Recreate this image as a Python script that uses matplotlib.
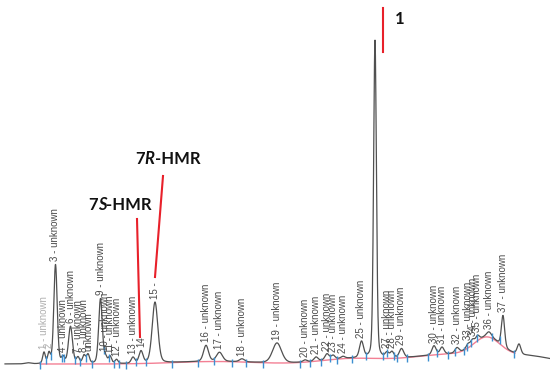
import numpy as np
import matplotlib.pyplot as plt

# peak table (retention axis in arbitrary units)
peak_rt = [44, 49, 55.5, 63, 70.5, 78, 84, 88, 100.5, 105.5, 110, 116.5, 133, 141, 155,
           206, 219.5, 242, 277, 305, 316, 327, 333, 343, 361.5, 375,
           387, 392, 401.5, 434, 442, 457, 468, 472.5, 477.5, 489, 503, 519]
peak_height = [11, 10, 99, 6, 37, 6, 8, 9, 65, 6, 7, 4, 6, 12, 61,
               16, 9, 3, 20, 2, 4, 6, 4, 2, 16, 318,
               5, 6, 9, 9, 7, 5, 4, 5, 5, 5, 31, 10]
peak_width = [1.3, 1.3, 1.7, 1.5, 2.0, 1.5, 1.5, 1.5, 1.8, 1.5, 1.5, 1.5, 1.8, 2.0, 2.8,
              2.5, 3.0, 2.5, 4.5, 2.0, 2.0, 2.0, 2.0, 2.0, 2.0, 1.4,
              1.8, 1.8, 2.2, 2.0, 2.0, 2.0, 1.8, 1.8, 1.8, 2.5, 1.6, 1.8]
peak_label = ['1 - unknown', '2', '3 - unknown', '4 - unknown', '6 - unknown',
              '7 - unknown', '8 - unknown', 'unknown', '9 - unknown', '10 - unknown',
              '11 - unknown', '12 - unknown', '13 - unknown', '14', '15 -',
              '16 - unknown', '17 - unknown', '18 - unknown', '19 - unknown',
              '20 - unknown', '21 - unknown', '22 - unknown', '23 - unknown',
              '24 - unknown', '25 - unknown', '',
              '27 - unknown', '28 - unknown', '29 - unknown', '30 - unknown',
              '31 - unknown', '32 - unknown', '33 - unknown', '34 - unknown',
              '35 - unknown', '36 - unknown', '37 - unknown', '']

# slow baseline drift / unresolved hump
drift_rt = [28, 215, 350, 455, 487, 530]
drift_height = [1.0, 2.5, 5, 10, 18, 6]
drift_width = [3, 40, 30, 45, 13, 25]

# integration marks
mark_rt = [40, 46, 51, 62, 64, 75, 80, 86, 92, 104, 109, 114, 119, 126, 136, 146, 172,
           198, 214, 232, 246, 263, 300, 310, 321, 330, 337, 352, 366, 383, 387,
           394, 397, 407, 428, 437, 448, 455, 464, 467, 471, 477, 492, 500, 514]


def shape(x, c, h, w):
    g = np.exp(-0.5 * ((x - c) / w) ** 2)
    lor = 1.0 / (1.0 + ((x - c) / (1.2 * w)) ** 2)
    return h * (0.75 * g + 0.25 * lor)


x = np.linspace(5, 550, 4000)
base = np.zeros_like(x)
for c, h, w in zip(drift_rt, drift_height, drift_width):
    base += h * np.exp(-0.5 * ((x - c) / w) ** 2)
signal = base.copy()
for c, h, w in zip(peak_rt, peak_height, peak_width):
    signal += shape(x, c, h, w)

fig = plt.figure(figsize=(5.5, 3.8), dpi=100)
ax = fig.add_axes([0, 0, 1, 1])
ax.set_xlim(0, 550)
ax.set_ylim(-16, 364)
ax.axis('off')

# integration baseline
m = (x > 40) & (x < 515)
ax.plot(x[m], base[m], color='#f0607a', lw=1.0, alpha=0.8, zorder=1)
ax.plot(x, signal, color='#505050', lw=0.9, zorder=2)

mark_y = np.interp(mark_rt, x, signal)
ax.plot(mark_rt, mark_y - 2, ls='none', marker='|', ms=6, mew=1.0, color='#3d8fd1', zorder=3)

# peak labels
for c, h, w, lab in zip(peak_rt, peak_height, peak_width, peak_label):
    if not lab:
        continue
    top = np.interp(c, x, signal)
    col = '#b0b0b0' if lab in ('1 - unknown', '2') else '#4a4a4a'
    ax.text(c, top + 3, lab, rotation=90, ha='center', va='bottom',
            fontsize=7, color=col, family='Liberation Sans')

# red pointer lines
ax.plot([137, 140], [145, 27], color='#e8202a', lw=1.5)
ax.plot([163, 155], [188, 87], color='#e8202a', lw=1.5)
ax.plot([383, 383], [356, 312], color='#e8202a', lw=1.5)

kw = dict(fontsize=12, fontweight='bold', family='Lato', color='#111111', va='bottom')
t1 = ax.text(88, 151, '7', ha='left', **kw)
t2 = ax.annotate('S', xy=(1, 0), xycoords=t1, fontstyle='italic', **kw)
ax.annotate('-HMR', xy=(1, 0), xycoords=t2, **kw)
t1 = ax.text(135, 197, '7', ha='left', **kw)
t2 = ax.annotate('R', xy=(1, 0), xycoords=t1, fontstyle='italic', **kw)
ax.annotate('-HMR', xy=(1, 0), xycoords=t2, **kw)
ax.text(395, 337, '1', ha='left', **kw)

fig.savefig('out.png', dpi=100)
